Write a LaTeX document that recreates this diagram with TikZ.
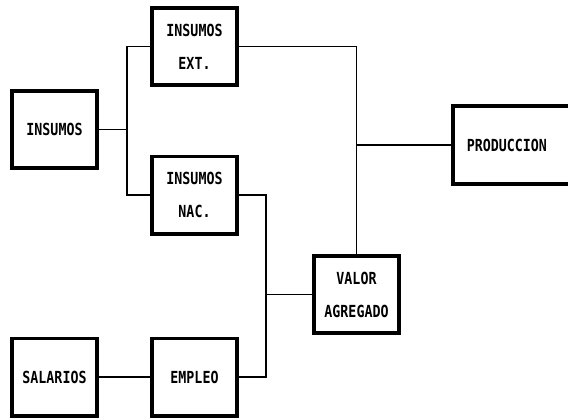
\documentclass[tikz,border=0pt]{standalone}
\usepackage{fontspec}
\usepackage{graphicx}
\newfontfamily\dotfont{DejaVu Sans Mono}
\newcommand\tx[1]{\scalebox{1}[1.25]{#1}}
\begin{document}
\begin{tikzpicture}[x=1pt,y=-1pt,
  box/.style={draw, line width=3.6pt, minimum width=85.4pt, minimum height=77.4pt,
    inner sep=0pt, align=center,
    font=\dotfont\bfseries\fontsize{13.3}{33}\selectfont},
  conn/.style={line width=1.9pt}]
\useasboundingbox (0,0) rectangle (568,420);
\clip (0,0) rectangle (568,420);
\fill[white] (0,0) rectangle (568,420);
% boxes
\node[box] (ins) at (54.5,129.5) {\tx{INSUMOS}};
\node[box] (ext) at (194.5,46.5) {\tx{INSUMOS}\\\tx{EXT.}};
\node[box] (nac) at (194.5,195) {\tx{INSUMOS}\\\tx{NAC.}};
\node[box] (sal) at (54.5,377) {\tx{SALARIOS}};
\node[box] (emp) at (194.5,377) {\tx{EMPLEO}};
\node[box] (val) at (356.5,294.5) {\tx{VALOR}\\\tx{AGREGADO}};
\node[box, draw=none, outer sep=0pt, anchor=west, text width=172pt, align=left,
  inner xsep=13pt, minimum width=200pt] (prod) at (452.8,145) {\tx{PRODUCCION}};
\draw[line width=3.6pt] (prod.north east) -- (prod.north west)
  -- (prod.south west) -- (prod.south east);
% junctions
\coordinate (j1) at (127,129.5);
\coordinate (j2) at (266,294.5);
% connectors
\draw[conn] (ins.east) -- (j1);
\draw[conn] (ext.west) -| (j1) |- (nac.west);
\draw[conn] (ext.east) -| (val.north);
\draw[conn] (prod.west) -- (prod.west -| val.north);
\draw[conn] (nac.east) -| (j2) |- (emp.east);
\draw[conn] (j2) -- (val.west);
\draw[conn] (sal.east) -- (emp.west);
\end{tikzpicture}
\end{document}
